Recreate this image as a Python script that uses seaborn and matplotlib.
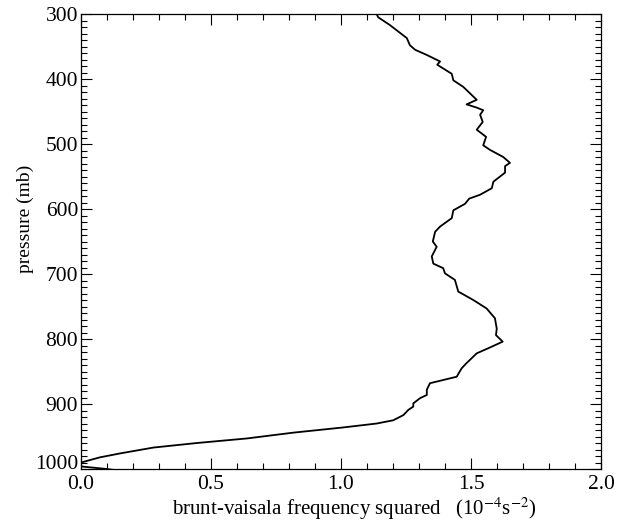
import numpy as np
import pandas as pd
import matplotlib
matplotlib.use("Agg")
import matplotlib.pyplot as plt
from matplotlib.ticker import MultipleLocator
from matplotlib.transforms import ScaledTranslation
import seaborn as sns

# Brunt-Vaisala frequency squared profile (10^-4 s^-2) against pressure (mb)
pressure = [300, 305, 317, 337, 348, 355, 363, 373, 378, 392, 402, 412, 432, 439,
            444, 448, 455, 466, 478, 489, 502, 509, 520, 529, 534, 544, 558, 568,
            578, 584, 592, 602, 614, 627, 635, 650, 658, 673, 684, 691, 699, 709,
            727, 740, 753, 768, 784, 794, 804, 813, 822, 837, 845, 858, 868, 878,
            886, 891, 899, 904, 909, 917, 925, 930, 936, 944, 953, 960, 967, 976,
            982, 989, 993, 996, 1000, 1003]
n2 = [1.137, 1.143, 1.188, 1.253, 1.265, 1.285, 1.330, 1.381, 1.370, 1.426, 1.432,
      1.470, 1.522, 1.483, 1.522, 1.547, 1.535, 1.545, 1.522, 1.558, 1.547, 1.573,
      1.624, 1.650, 1.631, 1.631, 1.586, 1.580, 1.535, 1.493, 1.477, 1.432, 1.426,
      1.381, 1.362, 1.353, 1.368, 1.349, 1.355, 1.393, 1.400, 1.438, 1.451, 1.509,
      1.560, 1.592, 1.599, 1.596, 1.622, 1.573, 1.522, 1.483, 1.464, 1.445, 1.342,
      1.330, 1.330, 1.304, 1.278, 1.278, 1.259, 1.240, 1.201, 1.137, 1.009, 0.817,
      0.637, 0.445, 0.278, 0.150, 0.073, 0.009, -0.02, 0.0, 0.10, 0.16]

x_ticks = [0.0, 0.5, 1.0, 1.5, 2.0]
x_tick_labels = ["0.0", "0.5", "1.0", "1.5", "2.0"]
y_ticks = [300, 400, 500, 600, 700, 800, 900, 1000]

df = pd.DataFrame({"n2": n2, "pressure": pressure})

sns.set_theme(style="ticks")
plt.rcParams["font.family"] = ["Liberation Serif", "DejaVu Serif"]
plt.rcParams["mathtext.fontset"] = "stix"

fig = plt.figure(figsize=(6.29, 5.27), dpi=100)
ax = fig.add_axes([0.1288, 0.110, 0.8267, 0.8634])

sns.lineplot(data=df, x="n2", y="pressure", sort=False, estimator=None,
             color="black", linewidth=1.3, ax=ax)

ax.set_xlim(0.0, 2.0)
ax.set_ylim(1000, 300)
ax.set_xticks(x_ticks)
ax.set_xticklabels(x_tick_labels)
ax.set_yticks(y_ticks)
ax.xaxis.set_minor_locator(MultipleLocator(0.1))
ax.yaxis.set_minor_locator(MultipleLocator(10))

ax.tick_params(which="both", direction="in", top=True, right=True,
               colors="black", labelsize=15.5, width=0.8)
ax.tick_params(which="major", length=8)
ax.tick_params(axis="x", which="major", pad=4)
ax.tick_params(axis="y", which="major", pad=2)
ax.tick_params(which="minor", length=4)
for s in ax.spines.values():
    s.set_color("black")
    s.set_linewidth(0.9)
    s.set_visible(True)

# lift the bottom pressure label clear of the first x label
fig.canvas.draw()
last = ax.get_yticklabels()[-1]
last.set_transform(last.get_transform() + ScaledTranslation(0, 5 / 72, fig.dpi_scale_trans))

ax.set_xlabel(r"brunt-vaisala frequency squared   (10$^{-4}$s$^{-2}$)",
              fontsize=15, color="black")
ax.xaxis.set_label_coords(0.525, -0.088)
ax.xaxis.label.set_va("center")
ax.set_ylabel("pressure (mb)", fontsize=14, color="black")
ax.yaxis.set_label_coords(-0.108, 0.549)
ax.yaxis.label.set_va("center")

fig.savefig("out.png", dpi=100, facecolor="white")
